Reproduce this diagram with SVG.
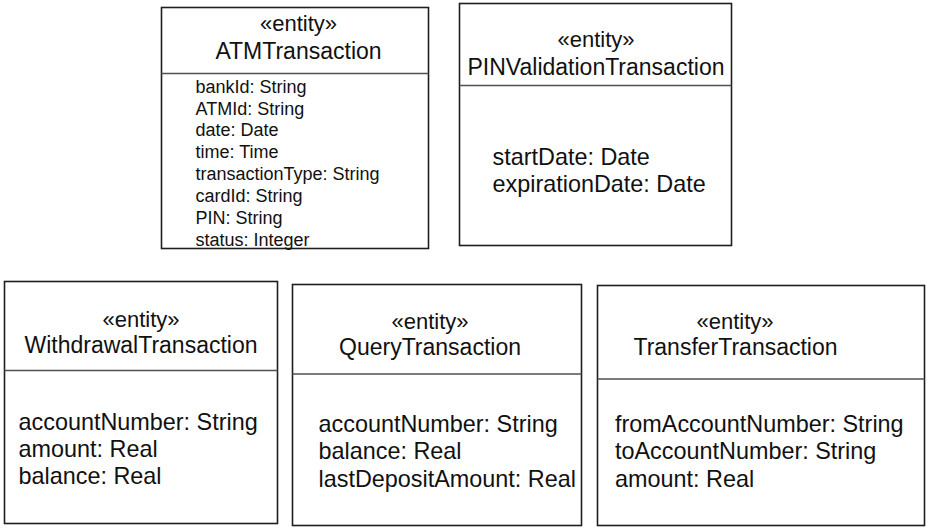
<svg xmlns="http://www.w3.org/2000/svg" width="930" height="529" viewBox="0 0 930 529">
<style>
  .box { fill: #ffffff; stroke: #1e1e1e; stroke-width: 1.6; }
  .div { stroke: #505050; stroke-width: 1.3; }
  text { font-family: "Liberation Sans", Arial, sans-serif; fill: #111111; }
  .st { font-size: 22px; text-anchor: middle; }
  .nm { font-size: 23px; text-anchor: middle; }
  .at { font-size: 23.4px; }
  .sm { font-size: 18px; }
</style>
<rect width="930" height="529" fill="#ffffff"/>
<g id="ATMTransaction">
  <rect class="box" x="161.5" y="7.5" width="267" height="241"/>
  <line class="div" x1="161.5" y1="73.5" x2="428.5" y2="73.5"/>
  <text class="st" x="298.5" y="31">«entity»</text>
  <text class="nm" x="298.5" y="59">ATMTransaction</text>
  <text class="sm" x="195.5" y="92.7">bankId: String</text>
  <text class="sm" x="195.5" y="114.5">ATMId: String</text>
  <text class="sm" x="195.5" y="136.3">date: Date</text>
  <text class="sm" x="195.5" y="158.2">time: Time</text>
  <text class="sm" x="195.5" y="180">transactionType: String</text>
  <text class="sm" x="195.5" y="201.9">cardId: String</text>
  <text class="sm" x="195.5" y="223.7">PIN: String</text>
  <text class="sm" x="195.5" y="245.5">status: Integer</text>
</g>
<g id="PINValidationTransaction">
  <rect class="box" x="459.5" y="3.5" width="272" height="242"/>
  <line class="div" x1="459.5" y1="85.5" x2="731.5" y2="85.5"/>
  <text class="st" x="596" y="47">«entity»</text>
  <text class="nm" x="596" y="74.5">PINValidationTransaction</text>
  <text class="at" x="492.5" y="165">startDate: Date</text>
  <text class="at" x="492.5" y="192">expirationDate: Date</text>
</g>
<g id="WithdrawalTransaction">
  <rect class="box" x="4.5" y="281.5" width="273" height="242"/>
  <line class="div" x1="4.5" y1="370.5" x2="277.5" y2="370.5"/>
  <text class="st" x="141" y="326.5">«entity»</text>
  <text class="nm" x="141" y="352.5">WithdrawalTransaction</text>
  <text class="at" x="18.5" y="430">accountNumber: String</text>
  <text class="at" x="18.5" y="457">amount: Real</text>
  <text class="at" x="18.5" y="484">balance: Real</text>
</g>
<g id="QueryTransaction">
  <rect class="box" x="292.5" y="284.5" width="289" height="241"/>
  <line class="div" x1="292.5" y1="374" x2="581.5" y2="374"/>
  <text class="st" x="430" y="328.5">«entity»</text>
  <text class="nm" x="430" y="355">QueryTransaction</text>
  <text class="at" x="318.5" y="432">accountNumber: String</text>
  <text class="at" x="318.5" y="459.3">balance: Real</text>
  <text class="at" x="318.5" y="486.7">lastDepositAmount: Real</text>
</g>
<g id="TransferTransaction">
  <rect class="box" x="597.5" y="285.5" width="327" height="240"/>
  <line class="div" x1="597.5" y1="379" x2="924.5" y2="379"/>
  <text class="st" x="735" y="328.5">«entity»</text>
  <text class="nm" x="735.5" y="355">TransferTransaction</text>
  <text class="at" x="615" y="432">fromAccountNumber: String</text>
  <text class="at" x="615" y="459.3">toAccountNumber: String</text>
  <text class="at" x="615" y="487">amount: Real</text>
</g>
<g id="connectors"></g>
</svg>
